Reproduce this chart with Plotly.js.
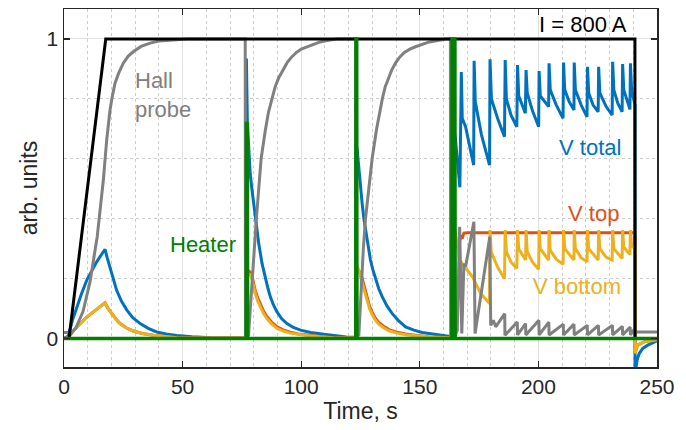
<!DOCTYPE html>
<html>
<head>
<meta charset="utf-8">
<script src="https://cdn.plot.ly/plotly-3.0.1.min.js"></script>
<style>html,body{margin:0;padding:0;background:#fff;}#chart{width:686px;height:430px;}</style>
</head>
<body>
<div id="chart"></div>
<script>
// ---- data: [time (s), value (arb. units)] ----
const current = [[0,0],[2.1,0],[17.6,1],[240.7,1],[240.75,0],[250,0]];

const heater = [[0,0],[76.8,0],[76.9,0.718],[77.3,0.718],[77.4,0],[123.0,0],[123.1,1],[123.4,1],[123.5,0],
  [163.5,0],[163.6,1],[164.8,1],[164.9,0],[250,0]];

const hall = [[0,0.02],[1.5,0.02],[2.5,0.012],[5,0.035],[8,0.09],[11,0.19],[14,0.34],[16.6,0.53],[18,0.663],
  [18.7,0.715],[19.4,0.763],[20.4,0.81],[21.5,0.852],[23,0.885],[25,0.919],[27,0.942],[29.3,0.958],[32.5,0.975],
  [36.3,0.986],[40,0.993],[44.8,0.996],[52,1],[76.4,1],[76.5,0.01],
  [77.8,0.012],[78.5,0.1],[79.3,0.2],[80.2,0.3],[81.1,0.4],[82.1,0.5],[83.1,0.6],[84.9,0.696],[86.2,0.755],
  [87.7,0.8],[89,0.84],[90.5,0.87],[92.2,0.897],[94,0.92],[96,0.94],[98,0.955],[100,0.966],[102.5,0.974],
  [105,0.983],[108,0.99],[111,0.995],[115,1],[123.0,1],[123.1,0.01],
  [124.3,0.012],[124.8,0.1],[125.4,0.2],[126.2,0.3],[127.1,0.4],[128.4,0.5],[129.9,0.6],[131.8,0.7],[132.9,0.75],
  [134.2,0.8],[135.4,0.84],[136.8,0.87],[138.2,0.897],[139.8,0.92],[141.6,0.94],[143.5,0.955],[145.8,0.966],
  [148.2,0.974],[151,0.983],[154,0.99],[157.5,0.995],[161,1],[162.9,1],
  [163.0,0.01],[165.0,0.012],[165.8,0.028],[166.8,0.373],[167.7,0.017],[168.6,0.25],[169.3,0.24],[172.8,0.39],
  [173.3,0.017],[179.5,0.34],[179.9,0.044],[181.0,0.061],[182.0,0.039],[185.8,0.083],[185.9,0.011],
  [191.1,0.055],[191.2,0.012],[194.6,0.05],[194.7,0.012],[200.2,0.061],[200.3,0.012],[204.4,0.055],[204.5,0.012],
  [210.5,0.048],[210.6,0.012],[215.0,0.048],[215.1,0.012],[220.6,0.044],[220.7,0.012],[225.3,0.044],[225.4,0.012],
  [231.2,0.044],[231.3,0.012],[235.4,0.041],[235.5,0.012],[238.7,0.038],[238.8,0.012],[240.6,0.033],
  [240.7,0.022],[250,0.022]];

const vTotal = [[0,0],[1.8,0.008],[3.5,0.06],[5.4,0.106],[7.5,0.152],[9.6,0.195],[11.7,0.228],[13.8,0.256],
  [15.6,0.278],[17.3,0.298],[18.2,0.27],[19.4,0.239],[20.8,0.2],[22.2,0.161],[24.2,0.125],[26.5,0.095],[29,0.07],
  [32.1,0.05],[35.5,0.034],[39.1,0.022],[43,0.015],[47.6,0.01],[54,0.006],[62,0.003],[76.8,0.002],
  [76.9,0.935],[77.3,0.72],[77.9,0.62],[78.5,0.551],[79.2,0.5],[79.9,0.451],[80.9,0.401],[82.1,0.317],[83.5,0.25],
  [84.9,0.2],[86,0.167],[87,0.139],[88.3,0.112],[89.8,0.089],[91.8,0.066],[94,0.05],[96.7,0.037],[99.7,0.028],
  [104,0.02],[109.5,0.014],[114,0.009],[119,0.005],[123.0,0.004],
  [123.1,0.65],[123.6,0.63],[124.3,0.565],[125,0.507],[125.7,0.45],[126.4,0.401],[127.1,0.362],[127.8,0.328],
  [128.5,0.293],[129.2,0.262],[130.2,0.23],[131.3,0.2],[132.7,0.166],[134.2,0.139],[136.2,0.108],[138.4,0.083],
  [141,0.06],[144,0.039],[147.5,0.028],[151,0.02],[155,0.015],[159.5,0.011],[163.5,0.006],
  [163.6,0.75],[165.1,0.66],[166.9,0.505],[167.5,0.89],[167.9,0.735],[169.3,0.707],[172.7,0.579],
  [172.9,0.927],[173.4,0.79],[176,0.68],[179.4,0.579],[179.6,0.932],[180.2,0.80],[183,0.73],[185.7,0.674],
  [186.0,0.93],[186.5,0.80],[188.5,0.745],[190.9,0.707],[191.2,0.913],[191.7,0.81],[194.5,0.752],
  [194.8,0.896],[195.3,0.82],[197.5,0.76],[200.1,0.707],[200.3,0.893],[200.8,0.81],[204.3,0.774],
  [204.5,0.919],[205.0,0.83],[207.5,0.78],[210.4,0.735],[210.6,0.921],[211.1,0.83],[213,0.79],[215.0,0.763],
  [215.1,0.921],[215.6,0.83],[218,0.78],[220.5,0.74],[220.7,0.907],[221.2,0.82],[223,0.78],[225.2,0.757],
  [225.4,0.907],[225.9,0.82],[228.5,0.775],[231.1,0.746],[231.3,0.924],[231.8,0.83],[233.5,0.785],[235.3,0.757],
  [235.5,0.916],[236.0,0.83],[238.6,0.765],[238.8,0.919],[239.3,0.83],[240.7,0.78],[240.75,-0.13],
  [241.2,-0.095],[241.6,-0.072],[242.5,-0.05],[244,-0.033],[246.1,-0.022],[248.9,-0.011],[250,-0.008]];

const vTop = [[0,0],[1.8,0.003],[4,0.027],[6.8,0.05],[9.5,0.071],[12.4,0.089],[15,0.105],[17.3,0.119],
  [18.6,0.1],[20.1,0.083],[21.8,0.066],[23.6,0.05],[26.2,0.036],[29.3,0.025],[33,0.017],[37.7,0.011],[42,0.007],
  [47.6,0.003],[76.8,0.002],
  [76.9,0.23],[78.5,0.222],[79.3,0.208],[80,0.182],[80.7,0.158],[81.7,0.135],[82.8,0.114],[84.1,0.092],
  [85.6,0.073],[87.5,0.055],[89.8,0.039],[92.4,0.029],[95.4,0.021],[98.8,0.015],[102.5,0.012],[108,0.007],
  [113.7,0.003],[123.0,0.002],
  [123.1,0.225],[125.0,0.222],[125.7,0.2],[126.4,0.178],[127.1,0.155],[127.8,0.134],[128.8,0.108],[129.9,0.088],
  [131.2,0.069],[132.7,0.054],[134.7,0.041],[137,0.03],[140,0.022],[144,0.015],[149,0.009],[154,0.005],
  [163.5,0.003],
  [163.6,0.32],[165.0,0.31],[166.3,0.305],[166.9,0.33],[167.3,0.345],[167.8,0.333],[168.6,0.352],[170,0.353],
  [240.7,0.353],[240.75,-0.05],[241.2,-0.035],[241.8,-0.022],[244.5,-0.011],[248.9,-0.006],[250,-0.004]];

const vBottom = [[0,0],[1.8,0.003],[4,0.027],[6.8,0.05],[9.5,0.071],[12.4,0.089],[15,0.105],[17.3,0.119],
  [18.6,0.1],[20.1,0.083],[21.8,0.066],[23.6,0.05],[26.2,0.036],[29.3,0.025],[33,0.017],[37.7,0.011],[42,0.007],
  [47.6,0.003],[76.8,0.002],
  [76.9,0.22],[78.5,0.212],[79.3,0.198],[80,0.172],[80.7,0.148],[81.7,0.125],[82.8,0.104],[84.1,0.084],
  [85.6,0.066],[87.5,0.049],[89.8,0.034],[92.4,0.025],[95.4,0.018],[98.8,0.013],[102.5,0.01],[108,0.006],
  [113.7,0.003],[123.0,0.002],
  [123.1,0.245],[124.0,0.235],[125.0,0.21],[125.7,0.188],[126.4,0.166],[127.1,0.144],[127.8,0.124],[128.8,0.1],
  [129.9,0.08],[131.2,0.062],[132.7,0.048],[134.7,0.036],[137,0.026],[140,0.019],[144,0.013],[149,0.008],
  [154,0.005],[163.5,0.003],
  [163.6,0.36],[164.9,0.36],[166.8,0.262],[169.3,0.235],[172.2,0.206],[175.7,0.15],[179.4,0.117],
  [179.6,0.362],[180.1,0.289],[183,0.235],[185.7,0.2],[186.0,0.362],[186.5,0.29],[188.5,0.255],[190.9,0.234],
  [191.2,0.362],[191.7,0.3],[194.6,0.262],[194.8,0.362],[195.3,0.29],[197.5,0.255],[200.1,0.231],
  [200.3,0.362],[200.8,0.3],[204.3,0.262],[204.5,0.362],[205.0,0.295],[207.5,0.265],[210.4,0.248],
  [210.6,0.362],[211.1,0.3],[215.0,0.262],[215.1,0.362],[215.6,0.3],[218,0.27],[220.5,0.256],
  [220.7,0.362],[221.2,0.3],[225.2,0.262],[225.4,0.362],[225.9,0.3],[228.5,0.272],[231.1,0.262],
  [231.3,0.362],[231.8,0.3],[235.3,0.267],[235.5,0.362],[236.0,0.305],[238.6,0.28],[238.8,0.362],
  [239.3,0.31],[240.7,0.3],[240.75,-0.05],[241.2,-0.035],[241.8,-0.022],[244.5,-0.011],[248.9,-0.006],[250,-0.004]];

const xTicks = [0, 50, 100, 150, 200, 250];
const yTicks = [0, 1];
const labels = {
  current: 'I = 800 A', hall: 'Hall<br>probe', heater: 'Heater',
  vTotal: 'V total', vTop: 'V top', vBottom: 'V bottom'
};

const C = {blue:'#0072BD', orange:'#D95319', yellow:'#EDB120', gray:'#808080', black:'#000000', green:'#008000'};

function tr(d, color, w){
  return {x: d.map(p=>p[0]), y: d.map(p=>p[1]), mode:'lines', type:'scatter',
    line:{color:color, width:w}, hoverinfo:'skip', showlegend:false};
}

const data = [
  tr(vTotal, C.blue, 3),
  tr(vTop, C.orange, 3),
  tr(vBottom, C.yellow, 3),
  tr(hall, C.gray, 3),
  tr(current, C.black, 3),
  tr(heater, C.green, 3.5)
];

const fontFam = 'Liberation Sans, Arial, sans-serif';
function ann(text, x, y, color, anchor){
  return {text:text, x:x, y:y, xref:'x', yref:'y', showarrow:false, xanchor:anchor||'center', yanchor:'middle',
    align:'left', font:{family:fontFam, size:22, color:color}};
}

const axisCommon = {
  ticks:'inside', ticklen:6, tickwidth:1.3, tickcolor:'#262626',
  showline:true, mirror:'ticks', linecolor:'#262626', linewidth:1.5,
  showgrid:true, gridcolor:'#e2e2e2', gridwidth:1, zeroline:false,
  tickfont:{family:fontFam, size:21, color:'#262626'}
};

const layout = {
  width:686, height:430,
  margin:{l:64, r:29, t:9, b:63},
  paper_bgcolor:'#ffffff', plot_bgcolor:'#ffffff',
  xaxis: Object.assign({}, axisCommon, {
    range:[0,250], tickvals:xTicks, ticktext:xTicks.map(String),
    minor:{dtick:10, tick0:0, showgrid:true, gridcolor:'#cccccc', griddash:'dot', gridwidth:1, ticks:''},
    title:{text:'Time, s', font:{family:fontFam, size:23, color:'#262626'}, standoff:6}
  }),
  yaxis: Object.assign({}, axisCommon, {
    range:[-0.095,1.1], tickvals:yTicks, ticktext:yTicks.map(String),
    minor:{dtick:0.2, tick0:0, showgrid:true, gridcolor:'#cccccc', griddash:'dot', gridwidth:1, ticks:''},
    title:{text:'arb. units', font:{family:fontFam, size:23, color:'#262626'}, standoff:2}
  }),
  annotations:[
    ann(labels.current, 219, 1.048, '#000000'),
    ann(labels.hall, 29.1, 0.812, C.gray, 'left'),
    ann(labels.heater, 58.5, 0.315, C.green),
    ann(labels.vTotal, 221.7, 0.638, C.blue),
    ann(labels.vTop, 223.4, 0.418, C.orange),
    ann(labels.vBottom, 216.2, 0.175, C.yellow)
  ]
};

Plotly.newPlot('chart', data, layout, {staticPlot:true, displayModeBar:false});
</script>
</body>
</html>
